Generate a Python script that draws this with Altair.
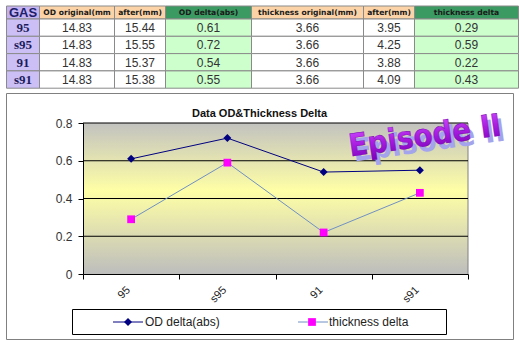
import altair as alt
import pandas as pd

# ---------------- data ----------------
cats = ["95", "s95", "91", "s91"]
od_original = [14.83, 14.83, 14.83, 14.83]
od_after = [15.44, 15.55, 15.37, 15.38]
od_delta = [0.61, 0.72, 0.54, 0.55]
th_original = [3.66, 3.66, 3.66, 3.66]
th_after = [3.95, 4.25, 3.88, 4.09]
th_delta = [0.29, 0.59, 0.22, 0.43]
headers = ["GAS", "OD original(mm", "after(mm)", "OD delta(abs)",
           "thickness original(mm)", "after(mm)", "thickness delta"]
series_names = ["OD delta(abs)", "thickness delta"]
y_ticks = [0, 0.2, 0.4, 0.6, 0.8]
chart_title = "Data OD&Thickness Delta"
wordart = "Episode II"

# ---------------- layout ----------------
PX, PY = 83, 123          # plot-area origin on the page
PW, PH = 385, 151         # plot-area size
col_edges = [6, 39, 114, 165, 251, 363, 414, 518]
row_edges = [6, 19, 36.3, 53.6, 70.9, 88.2]
FONT = "Liberation Sans, Arial, sans-serif"

NAVY = "#000080"
STEEL = "#7090c4"
MAGENTA = "#ff00ff"

# ---------------- table ----------------
columns = [cats, od_original, od_after, od_delta, th_original, th_after, th_delta]
header_fill = ["#c4b2f2", "#fcd3a6", "#fcd3a6", "#3a9a62", "#fcd3a6", "#fcd3a6", "#3a9a62"]
data_fill = ["#cbbff6", "#ffffff", "#ffffff", "#ccffcc", "#ffffff", "#ffffff", "#ccffcc"]

cells = []
for r in range(5):
    for c in range(7):
        if r == 0:
            txt = headers[c]
            kind = "gashead" if c == 0 else "head"
            fill = header_fill[c]
        else:
            v = columns[c][r - 1]
            txt = v if c == 0 else f"{v:.2f}"
            kind = "rowlab" if c == 0 else "data"
            fill = data_fill[c]
        x0 = col_edges[c] - PX + 0.5
        x1 = col_edges[c + 1] - PX + 0.5
        y0 = row_edges[r] - PY
        y1 = row_edges[r + 1] - PY
        cells.append(dict(x0=x0, x1=x1, y0=y0, y1=y1, xc=(x0 + x1) / 2,
                          yc=(y0 + y1) / 2, txt=txt, kind=kind, fill=fill))
tdf = pd.DataFrame(cells)

table_rect = alt.Chart(tdf).mark_rect(stroke="#8a8a8a", strokeWidth=1).encode(
    x=alt.X("x0:Q", scale=None, axis=None), x2="x1:Q",
    y=alt.Y("y0:Q", scale=None, axis=None), y2="y1:Q",
    fill=alt.Fill("fill:N", scale=None))


def table_text(kind, **kw):
    return alt.Chart(tdf).transform_filter(alt.datum.kind == kind).mark_text(
        baseline="middle", align="center", **kw).encode(
        x=alt.X("xc:Q", scale=None, axis=None),
        y=alt.Y("yc:Q", scale=None, axis=None),
        text="txt:N")


t_head = table_text("head", font="DejaVu Sans", fontSize=7.6, fontWeight="bold", color="#1a1a1a", dy=0.5)
t_gas = table_text("gashead", font=FONT, fontSize=13, fontWeight="bold", color="#20206a", dy=0.5)
t_row = table_text("rowlab", font="Liberation Serif, Times New Roman, serif", fontSize=13,
                   fontWeight="bold", color="#1c1c5c", dy=0.5)
t_data = table_text("data", font=FONT, fontSize=12, color="#333333", dy=0.5)
table = alt.layer(table_rect, t_head, t_gas, t_row, t_data)

# ---------------- decoration ----------------
one = pd.DataFrame({"k": [0]})
frame = alt.Chart(one).mark_rect(fill="white", stroke="#808080", strokeWidth=1).encode(
    x=alt.value(6 - PX + 0.5), x2=alt.value(513 - PX + 0.5),
    y=alt.value(93 - PY + 0.5), y2=alt.value(339 - PY + 0.5))

bg = alt.Chart(one).mark_rect(
    fill=alt.LinearGradient(
        gradient="linear", x1=0, y1=0, x2=0, y2=1,
        stops=[alt.GradientStop(offset=0, color="#c2c2c0"),
               alt.GradientStop(offset=0.45, color="#ffffa6"),
               alt.GradientStop(offset=1, color="#bdbdbd")])
).encode(x=alt.value(0), x2=alt.value(PW), y=alt.value(0), y2=alt.value(PH))

title = alt.Chart(one).mark_text(font=FONT, fontSize=11, fontWeight="bold", color="#111111",
                                 align="center", baseline="alphabetic").encode(
    x=alt.value(259.5 - PX), y=alt.value(117 - PY), text=alt.value(chart_title))

# ---------------- plot ----------------
df = pd.DataFrame({"gas": cats * 2, "value": od_delta + th_delta,
                   "series": [series_names[0]] * 4 + [series_names[1]] * 4})

xscale = alt.Scale(type="band", domain=cats, paddingInner=0, paddingOuter=0)
yscale = alt.Scale(domain=[0, 0.8], nice=False, zero=True)

xaxis = alt.Axis(title=None, labelAngle=315, labelAlign="right", labelBaseline="middle",
                 labelFont=FONT, labelFontSize=11, labelOffset=-3,
                 labelColor="#222222", tickBand="extent", tickSize=5,
                 tickColor="#000000", domainColor="#000000", labelPadding=9,
                 grid=False, zindex=2)
yaxis = alt.Axis(title=None, values=y_ticks, format="~g", labelFont=FONT,
                 labelFontSize=12, labelColor="#333333", tickSize=5,
                 tickColor="#000000", domainColor="#000000", labelPadding=6,
                 grid=False, zindex=2)
xenc = alt.X("gas:N", scale=xscale, bandPosition=0.5, sort=cats, axis=xaxis)
yenc = alt.Y("value:Q", scale=yscale, axis=yaxis)

grid = alt.Chart(pd.DataFrame({"value": y_ticks[1:]})).mark_rule(color="#000000", strokeWidth=1).encode(
    y=yenc, x=alt.value(0), x2=alt.value(PW))
rborder = alt.Chart(one).mark_rule(color="#808080", strokeWidth=1).encode(
    x=alt.value(PW), y=alt.value(0), y2=alt.value(PH))

plot_layers = [grid]
styles = [(NAVY, NAVY, "diamond", 64), (STEEL, MAGENTA, "square", 60)]
for name, (lc, pc, shp, sz) in zip(series_names, styles):
    base = alt.Chart(df).transform_filter(alt.datum.series == name)
    plot_layers.append(base.mark_line(color=lc, strokeWidth=1).encode(x=xenc, y=yenc))
for name, (lc, pc, shp, sz) in zip(series_names, styles):
    base = alt.Chart(df).transform_filter(alt.datum.series == name)
    plot_layers.append(base.mark_point(color=pc, fill=pc, filled=True, opacity=1,
                                       shape=shp, size=sz, strokeWidth=0).encode(x=xenc, y=yenc))
plot = alt.layer(*plot_layers)

# ---------------- word art ----------------
wa_x, wa_y = 425 - PX, 137 - PY
WA_FONT = "Liberation Sans Narrow, DejaVu Sans Condensed, sans-serif"
wa_shadow = alt.Chart(one).mark_text(font=WA_FONT, fontSize=31, fontWeight="bold", color="#a4a4ec",
                                     angle=352, align="center", baseline="middle").encode(
    x=alt.value(wa_x + 4), y=alt.value(wa_y + 5), text=alt.value(wordart))
wa_main = alt.Chart(one).mark_text(font=WA_FONT, fontSize=31, fontWeight="bold",
                                   fill=alt.LinearGradient(
                                       gradient="linear", x1=0, y1=0, x2=0, y2=1,
                                       stops=[alt.GradientStop(offset=0, color="#d24cff"),
                                              alt.GradientStop(offset=0.5, color="#a81ee0"),
                                              alt.GradientStop(offset=1, color="#7a00b8")]),
                                   stroke="#7000a8", strokeWidth=0.4,
                                   angle=352, align="center", baseline="middle").encode(
    x=alt.value(wa_x), y=alt.value(wa_y), text=alt.value(wordart))

# ---------------- legend ----------------
lg_y = 322 - PY
legend_box = alt.Chart(one).mark_rect(fill="white", stroke="#000000", strokeWidth=1).encode(
    x=alt.value(72 - PX + 0.5), x2=alt.value(446 - PX + 0.5),
    y=alt.value(309 - PY + 0.5), y2=alt.value(334 - PY + 0.5))
legend_layers = [legend_box]
legend_pos = [(113, 128, 145), (298, 312, 329)]
for name, (lc, pc, shp, sz), (lx, mx, tx0) in zip(series_names, styles, legend_pos):
    legend_layers.append(alt.Chart(one).mark_rule(color=lc, strokeWidth=1).encode(
        x=alt.value(lx - PX), x2=alt.value(lx + 30 - PX), y=alt.value(lg_y), y2=alt.value(lg_y)))
    legend_layers.append(alt.Chart(one).mark_point(color=pc, fill=pc, filled=True, opacity=1,
                                                   shape=shp, size=sz, strokeWidth=0).encode(
        x=alt.value(mx - PX), y=alt.value(lg_y)))
    legend_layers.append(alt.Chart(one).mark_text(font=FONT, fontSize=12, color="#222222",
                                                  align="left", baseline="middle").encode(
        x=alt.value(tx0 - PX), y=alt.value(lg_y), text=alt.value(name)))

chart = alt.layer(
    frame, table, bg, rborder, plot, title, wa_shadow, wa_main, *legend_layers
).resolve_scale(x="independent", y="independent").properties(
    width=PW, height=PH, autosize="none",
    padding={"left": PX, "top": PY, "right": 520 - PX - PW, "bottom": 345 - PY - PH}
).configure_view(stroke=None).configure(background="white")

chart.save("out.html", embed_options={"renderer": "svg", "actions": False})
